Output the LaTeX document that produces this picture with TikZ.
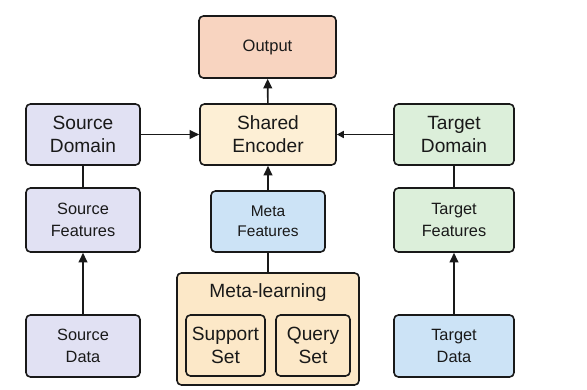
\documentclass[tikz,border=0pt]{standalone}
\usepackage{fontspec}
\setmainfont{Liberation Sans}
\usetikzlibrary{arrows.meta}
\definecolor{outfill}{HTML}{F8D4C0}
\definecolor{srcfill}{HTML}{E1E1F3}
\definecolor{encfill}{HTML}{FDEFD5}
\definecolor{tgtfill}{HTML}{DCEFDA}
\definecolor{bluefill}{HTML}{CCE3F6}
\definecolor{metafill}{HTML}{FCE8C8}
\tikzset{
  box/.style={draw=black!90, line width=0.9pt, rounded corners=2.5pt,
    align=center, inner sep=0pt, text=black!90},
  bigtext/.style={font=\fontsize{10.9}{13}\selectfont},
  smalltext/.style={font=\fontsize{9.3}{12.5}\selectfont},
}
\begin{document}
\begin{tikzpicture}[>={Triangle[length=5.5pt,width=5pt]}, line width=0.9pt]
      \useasboundingbox (0,0) rectangle (11.74,7.8);
      \node[box, fill=outfill, minimum width=2.74cm, minimum height=1.24cm,
        font=\fontsize{9.4}{11}\selectfont] (out) at (5.35,6.86) {Output};
      \node[box, bigtext, fill=encfill, minimum width=2.72cm, minimum height=1.22cm] (enc) at (5.36,5.11) {Shared\\Encoder};
      \node[box, bigtext, fill=srcfill, minimum width=2.28cm, minimum height=1.22cm] (sdom) at (1.66,5.11) {Source\\Domain};
      \node[box, bigtext, fill=tgtfill, minimum width=2.40cm, minimum height=1.22cm] (tdom) at (9.08,5.11) {Target\\Domain};
      \node[box, smalltext, fill=srcfill, minimum width=2.28cm, minimum height=1.28cm] (sfeat) at (1.66,3.40) {Source\\Features};
      \node[box, fill=bluefill, minimum width=2.28cm, minimum height=1.22cm,
        font=\fontsize{8.8}{11.4}\selectfont] (mfeat) at (5.36,3.37) {Meta\\Features};
      \node[box, smalltext, fill=tgtfill, minimum width=2.40cm, minimum height=1.28cm] (tfeat) at (9.08,3.40) {Target\\Features};
      \node[box, fill=metafill, minimum width=3.64cm, minimum height=2.24cm] (meta) at (5.36,1.22) {};
      \node[bigtext, text=black!90] (metalbl) at (5.36,1.94) {Meta-learning};
      \node[box, bigtext, minimum width=1.58cm, minimum height=1.22cm] (sup) at (4.51,0.89) {Support\\Set};
      \node[box, bigtext, minimum width=1.48cm, minimum height=1.22cm] (qry) at (6.26,0.89) {Query\\Set};
      \node[box, smalltext, fill=srcfill, minimum width=2.28cm, minimum height=1.24cm] (sdata) at (1.66,0.88) {Source\\Data};
      \node[box, smalltext, fill=bluefill, minimum width=2.40cm, minimum height=1.24cm] (tdata) at (9.08,0.88) {Target\\Data};
      \begin{scope}[draw=black!90]
        \draw[->] (enc) to (out);
        \draw[->] (sdom) to (enc);
        \draw[->, >={Triangle[length=4pt,width=4pt]}] (tdom) to (enc);
        \draw[->] (mfeat) to (enc);
        \draw (sdom) to (sfeat);
        \draw (tdom) to (tfeat);
        \draw (meta) to (mfeat);
        \draw[->] (sdata) to (sfeat);
        \draw[->] (tdata) to (tfeat);
      \end{scope}
    \end{tikzpicture}
\end{document}
